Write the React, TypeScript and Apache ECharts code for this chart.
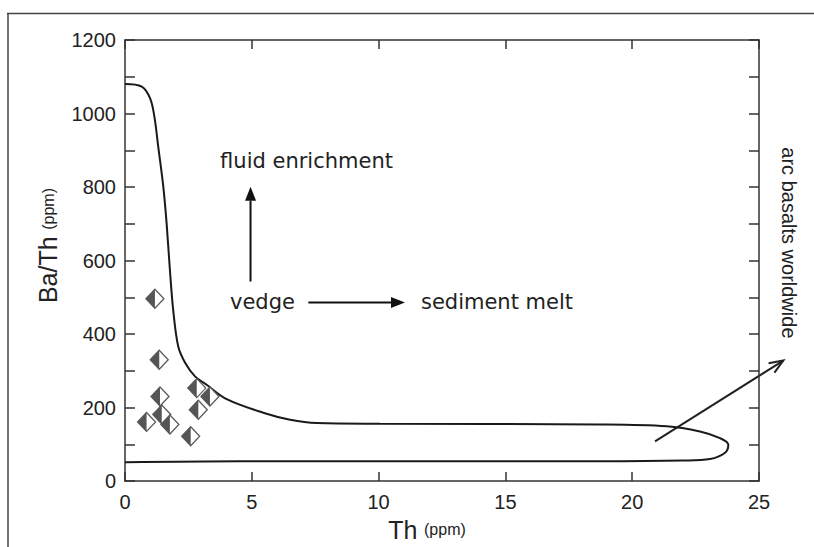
import React, { useEffect, useRef } from "react";
import * as echarts from "echarts";

// Envelope of arc basalts worldwide (Th ppm, Ba/Th)
const envelopeTh = [0, 0.66, 0.99, 1.16, 1.31, 1.51, 1.64, 1.77, 1.9, 2.1, 2.37, 2.76, 3.22, 4.01, 5.45, 6.51, 7.56, 10.06, 18.73, 21.36, 22.67, 23.46, 23.79, 23.66, 23.07, 22.01, 18.73, 4.53, 0];
const envelopeBaTh = [1080, 1073, 1041, 991, 910, 801, 702, 575, 466, 366, 322, 285, 262, 223, 186, 167, 158, 156, 154, 149, 135, 117, 99, 77, 60, 56, 54, 54, 51];

// Samples (half-filled diamonds)
const sampleTh = [1.18, 1.35, 1.38, 2.83, 3.35, 2.89, 1.45, 0.85, 1.77, 2.59];
const sampleBaTh = [496, 330, 230, 253, 230, 194, 181, 161, 154, 122];

// Axis ticks
const xTicks = [0, 25, 5];
const yTicks = [0, 1200, 100];

// Annotation anchors in data units
const arrowFrom = [[4.95, 543], [7.23, 486], [20.9, 108]];
const arrowTo = [[4.95, 801], [11.04, 486], [25.96, 328]];
const arrowFilled = [true, true, false];
const noteTexts = ["fluid enrichment", "vedge", "sediment melt"];
const noteAt = [[3.75, 871], [4.14, 488], [11.67, 488]];
const sideText = "arc basalts worldwide";
const sideAt = [26.18, 648];

const FONT = "'Liberation Sans', Arial, Helvetica, sans-serif";
const NOTE_FONT = "'DejaVu Sans', sans-serif";

export default function App() {
  const ref = useRef<HTMLDivElement>(null);
  useEffect(() => {
    if (!ref.current) return;
    const chart = echarts.init(ref.current, null, { renderer: "svg" });
    const axisLine = { show: true, onZero: false, lineStyle: { color: "#333", width: 1.5 } };
    const tick = { show: true, inside: true, length: 9, lineStyle: { color: "#333", width: 1.5 } };
    const option: any = {
      animation: false,
      grid: { left: 125, right: 55, top: 40, bottom: 65.5 },
      xAxis: [
        {
          type: "value",
          min: xTicks[0],
          max: xTicks[1],
          interval: xTicks[2],
          position: "bottom",
          axisLine,
          axisTick: tick,
          splitLine: { show: false },
          axisLabel: { fontSize: 20, color: "#222", fontFamily: FONT, margin: 11 },
          name: "{a|Th}  {b|(ppm)}",
          nameLocation: "middle",
          nameGap: 20,
          nameTextStyle: {
            padding: [0, 30, 0, 0],
            rich: {
              a: { fontSize: 25, color: "#222", fontFamily: FONT },
              b: { fontSize: 16, color: "#222", fontFamily: FONT },
            },
          },
        },
        {
          type: "value",
          min: xTicks[0],
          max: xTicks[1],
          interval: xTicks[2],
          position: "top",
          axisLine,
          axisTick: tick,
          splitLine: { show: false },
          axisLabel: { show: false },
        },
      ],
      yAxis: [
        {
          type: "value",
          min: yTicks[0],
          max: yTicks[1],
          interval: yTicks[2],
          position: "left",
          axisLine,
          axisTick: { ...tick, length: 10 },
          splitLine: { show: false },
          axisLabel: {
            fontSize: 20,
            color: "#222",
            fontFamily: FONT,
            margin: 9,
            formatter: (v: number) => (v % 200 === 0 ? String(v) : ""),
          },
          name: "{a|Ba/Th}  {b|(ppm)}",
          nameLocation: "middle",
          nameGap: 56,
          nameTextStyle: {
            padding: [0, 0, 0, 30],
            rich: {
              a: { fontSize: 25, color: "#222", fontFamily: FONT },
              b: { fontSize: 16, color: "#222", fontFamily: FONT },
            },
          },
        },
        {
          type: "value",
          min: yTicks[0],
          max: yTicks[1],
          interval: yTicks[2],
          position: "right",
          axisLine,
          axisTick: { ...tick, length: 10 },
          splitLine: { show: false },
          axisLabel: { show: false },
        },
      ],
      series: [
        {
          type: "line",
          data: envelopeTh.map((x, i) => [x, envelopeBaTh[i]]),
          showSymbol: false,
          smooth: 0.35,
          lineStyle: { color: "#1a1a1a", width: 2 },
          z: 2,
        },
        {
          type: "scatter",
          data: sampleTh.map((x, i) => [x, sampleBaTh[i]]),
          symbol: "diamond",
          symbolSize: [18, 19],
          itemStyle: { color: "#ffffff", borderColor: "#5a5a5a", borderWidth: 1.3, opacity: 1 },
          z: 3,
        },
        {
          type: "scatter",
          data: sampleTh.map((x, i) => [x, sampleBaTh[i]]),
          symbol: "path://M10,0 L10,20 L0,10 Z",
          symbolSize: [9, 19],
          symbolOffset: [-4.5, 0],
          itemStyle: { color: "#555555", opacity: 1 },
          z: 4,
        },
      ],
    };
    chart.setOption(option);

    const px = (p: number[]) => chart.convertToPixel({ xAxisIndex: 0, yAxisIndex: 0 }, p) as number[];
    const graphics: any[] = [
      { type: "line", shape: { x1: 7, y1: 13.5, x2: 814, y2: 13.5 }, style: { stroke: "#444", lineWidth: 1.5 } },
      { type: "line", shape: { x1: 8, y1: 13, x2: 8, y2: 547 }, style: { stroke: "#444", lineWidth: 1.5 } },
    ];
    arrowFrom.forEach((f, i) => {
      const a = px(f);
      const b = px(arrowTo[i]);
      const dx = b[0] - a[0];
      const dy = b[1] - a[1];
      const len = Math.hypot(dx, dy);
      const ux = dx / len;
      const uy = dy / len;
      const hl = 14;
      const hw = 5.5;
      const bx = b[0] - ux * hl;
      const by = b[1] - uy * hl;
      const l = [bx - uy * hw, by + ux * hw];
      const r = [bx + uy * hw, by - ux * hw];
      if (arrowFilled[i]) {
        graphics.push({ type: "line", shape: { x1: a[0], y1: a[1], x2: bx, y2: by }, style: { stroke: "#111", lineWidth: 2 } });
        graphics.push({ type: "polygon", shape: { points: [b, l, r] }, style: { fill: "#111" } });
      } else {
        graphics.push({ type: "line", shape: { x1: a[0], y1: a[1], x2: b[0], y2: b[1] }, style: { stroke: "#222", lineWidth: 2 } });
        graphics.push({ type: "polyline", shape: { points: [l, b, r] }, style: { stroke: "#222", lineWidth: 2, fill: null } });
      }
    });
    noteTexts.forEach((t, i) => {
      const p = px(noteAt[i]);
      graphics.push({
        type: "text",
        x: p[0],
        y: p[1],
        style: { text: t, fontSize: 21, fontFamily: NOTE_FONT, fill: "#222", align: "left", verticalAlign: "middle" },
      });
    });
    const sp = px(sideAt);
    graphics.push({
      type: "text",
      x: sp[0],
      y: sp[1],
      rotation: -Math.PI / 2,
      style: { text: sideText, fontSize: 20, fontFamily: FONT, fill: "#222", align: "center", verticalAlign: "middle" },
    });
    chart.setOption({ graphic: graphics });

    return () => chart.dispose();
  }, []);
  return <div ref={ref} style={{ position: "fixed", left: 0, top: 0, width: 814, height: 547, background: "#fff" }} />;
}
